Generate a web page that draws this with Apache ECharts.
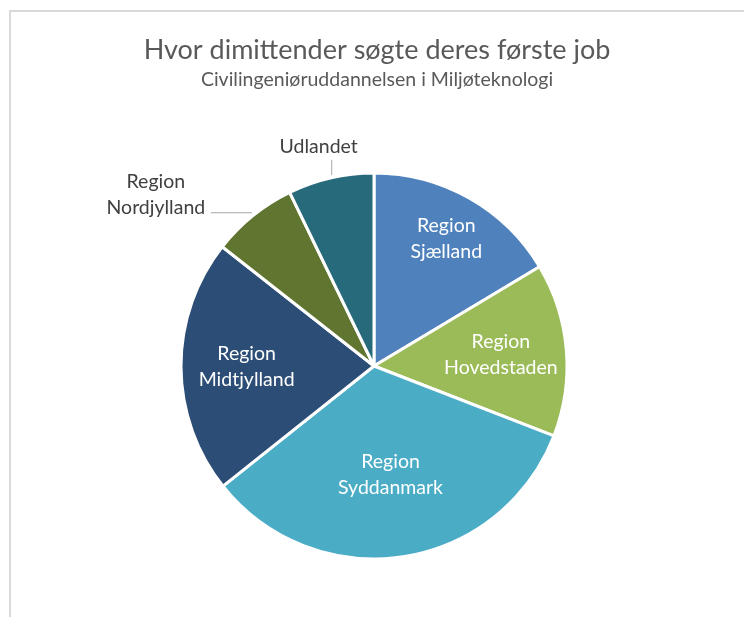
<!DOCTYPE html>
<html>
<head>
<meta charset="utf-8">
<script src="https://cdn.jsdelivr.net/npm/echarts@6/dist/echarts.min.js"></script>
<style>
html,body{margin:0;padding:0;background:#fff;}
#chart{width:744px;height:617px;}
</style>
</head>
<body>
<div id="chart"></div>
<script>
var titleText = 'Hvor dimittender søgte deres første job';
var subtitleText = 'Civilingeniøruddannelsen i Miljøteknologi';
var categories = ['Region\nSjælland', 'Region\nHovedstaden', 'Region\nSyddanmark', 'Region\nMidtjylland', 'Region\nNordjylland', 'Udlandet'];
var values = [16.4, 14.5, 33.4, 21.3, 7.2, 7.2];
var colors = ['#4F81BD', '#9BBB59', '#4BACC6', '#2C4D75', '#5F7530', '#276A7C'];

var FONT = 'Lato, "Open Sans", sans-serif';
var CX = 374, CY = 366, R = 193;
// radial fraction for inside labels (layout only)
var labelFrac = [0.76, 0.66, 0.57, 0.66, 0, 0];
var insideFlags = [true, true, true, true, false, false];

var total = values.reduce(function (a, b) { return a + b; }, 0);
function midAngle(i) {
  var s = 0;
  for (var k = 0; k < i; k++) s += values[k];
  return ((s + values[i] / 2) / total) * Math.PI * 2; // clockwise from top
}

var chart = echarts.init(document.getElementById('chart'));
var data = categories.map(function (c, i) {
  var d = { name: c, value: values[i], itemStyle: { color: colors[i] } };
  if (insideFlags[i]) {
    d.label = { position: 'inside', color: '#ffffff' };
    d.labelLine = { show: false };
  } else {
    d.label = { position: 'outside', color: '#404040' };
    d.labelLine = { show: true, lineStyle: { color: '#a6a6a6', width: 1 } };
  }
  return d;
});

chart.setOption({
  animation: false,
  graphic: [{
    type: 'rect', silent: true,
    shape: { x: 10, y: 11, width: 800, height: 700 },
    style: { fill: 'none', stroke: '#d9d9d9', lineWidth: 2 }
  }, {
    type: 'text', silent: true, x: 377, y: 50,
    style: { text: titleText, fill: '#595959', font: 'normal 27px ' + FONT, align: 'center', verticalAlign: 'middle' }
  }, {
    type: 'text', silent: true, x: 377, y: 80,
    style: { text: subtitleText, fill: '#595959', font: 'normal 19.5px ' + FONT, align: 'center', verticalAlign: 'middle' }
  }],
  series: [{
    type: 'pie',
    center: [CX, CY],
    radius: [0, R],
    startAngle: 90,
    clockwise: true,
    data: data,
    itemStyle: { borderColor: '#ffffff', borderWidth: 3 },
    label: {
      show: true,
      fontFamily: FONT,
      fontSize: 19.5,
      lineHeight: 26,
      align: 'center',
      formatter: '{b}'
    },
    labelLayout: function (p) {
      var i = p.dataIndex;
      var a = midAngle(i);
      var sx = Math.sin(a), sy = -Math.cos(a);
      if (insideFlags[i]) {
        var f = labelFrac[i] * R;
        return { x: CX + f * sx, y: CY + f * sy, align: 'center', verticalAlign: 'middle' };
      }
      var ex = CX + R * sx, ey = CY + R * sy;
      if (i === 5) {
        // Udlandet: vertical leader upward
        return {
          x: ex - 12, y: ey - 31, align: 'center', verticalAlign: 'middle',
          labelLinePoints: [[ex + 1, ey - 3], [ex + 1, ey - 18], [ex + 1, ey - 18]]
        };
      }
      // Nordjylland: horizontal leader to the left
      return {
        x: ex - 97, y: ey - 21, align: 'center', verticalAlign: 'middle',
        labelLinePoints: [[ex - 1, ey - 3], [ex - 42, ey - 3], [ex - 42, ey - 3]]
      };
    }
  }]
});
</script>
</body>
</html>
